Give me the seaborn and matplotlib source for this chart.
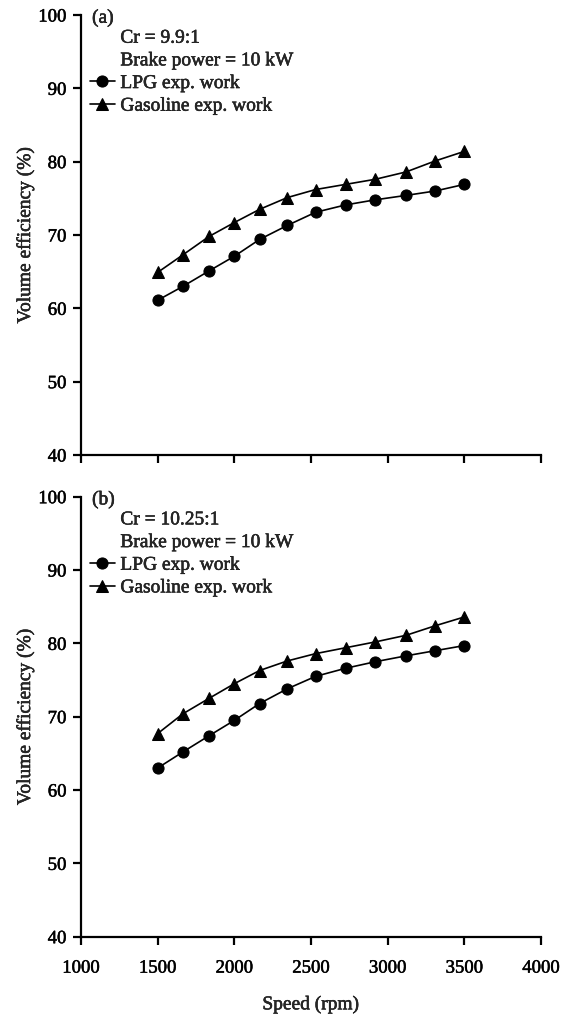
import numpy as np
import pandas as pd
import matplotlib
matplotlib.use("Agg")
import matplotlib.pyplot as plt
import matplotlib.patheffects as pe
from matplotlib.lines import Line2D
import seaborn as sns

speed = [1500, 1665, 1835, 2000, 2165, 2345, 2530, 2725, 2920, 3120, 3310, 3500]
lpg_a = [61.1, 63.0, 65.1, 67.1, 69.4, 71.3, 73.1, 74.1, 74.8, 75.4, 76.0, 76.9]
gas_a = [64.9, 67.3, 69.8, 71.7, 73.5, 75.1, 76.2, 76.9, 77.6, 78.6, 80.1, 81.4]
lpg_b = [63.0, 65.2, 67.4, 69.5, 71.8, 73.8, 75.5, 76.6, 77.5, 78.3, 79.0, 79.7]
gas_b = [67.7, 70.4, 72.5, 74.5, 76.3, 77.6, 78.6, 79.4, 80.2, 81.1, 82.4, 83.6]
series_names = ["LPG exp. work", "Gasoline exp. work"]
panel_tags = ["(a)", "(b)"]
cr_labels = ["Cr = 9.9:1", "Cr = 10.25:1"]
power_label = "Brake power = 10 kW"
xticks = [1000, 1500, 2000, 2500, 3000, 3500, 4000]
yticks = [40, 50, 60, 70, 80, 90, 100]

sns.set_style("ticks")
plt.rcParams["font.family"] = ["Liberation Serif", "DejaVu Serif"]
plt.rcParams["font.size"] = 13.5

heavy = [pe.withStroke(linewidth=0.35, foreground="black")]
FS_TICK = 13.5
FS_TEXT = 14

fig = plt.figure(figsize=(5.74, 10.15), dpi=100)
left, width = 81 / 574, 460 / 574
axA = fig.add_axes([left, 1 - 455 / 1015, width, 440 / 1015])
axB = fig.add_axes([left, 1 - 936.7 / 1015, width, 440 / 1015])

panels = [(axA, lpg_a, gas_a), (axB, lpg_b, gas_b)]
for i, (ax, lpg, gas) in enumerate(panels):
    df = pd.DataFrame({
        "speed": speed + speed,
        "eff": lpg + gas,
        "fuel": [series_names[0]] * len(speed) + [series_names[1]] * len(speed),
    })
    sns.lineplot(data=df, x="speed", y="eff", style="fuel", markers=["o", "^"],
                 dashes=False, color="black", markersize=8, linewidth=1.2,
                 markeredgecolor="black", errorbar=None, ax=ax, legend="auto")
    ax.set_xlim(1000, 4000)
    ax.set_ylim(40, 100)
    ax.set_xticks(xticks)
    ax.set_yticks(yticks)
    sns.despine(ax=ax)
    for s in ["left", "bottom"]:
        ax.spines[s].set_linewidth(1.6)
        ax.spines[s].set_color("black")
    ax.tick_params(axis="both", colors="black", width=1.6, length=5.5, labelsize=FS_TICK)
    ax.tick_params(axis="y", pad=5)
    ax.tick_params(axis="x", pad=11)
    ax.set_ylabel("Volume efficiency (%)", fontsize=FS_TEXT)
    ax.yaxis.set_label_coords(-0.102, 0.5)
    if i == 0:
        ax.set_xlabel("")
        ax.tick_params(axis="x", labelbottom=False)
    else:
        ax.set_xlabel("Speed (rpm)", fontsize=FS_TEXT, labelpad=14)

    h, l = ax.get_legend_handles_labels()
    hmap = dict(zip(l, h))
    handles = [Line2D([], [], linestyle="none"), Line2D([], [], linestyle="none")] + \
        [hmap[n] for n in series_names]
    labels = [cr_labels[i], power_label] + series_names
    leg = ax.legend(handles, labels, loc="upper left", bbox_to_anchor=(0.0196, 0.968),
                    frameon=False, borderpad=0, borderaxespad=0, handlelength=1.28,
                    handletextpad=0.28, labelspacing=0.26, fontsize=FS_TEXT)
    for t in leg.get_texts():
        t.set_path_effects(heavy)
    ax.text(0.024, 0.993, panel_tags[i], transform=ax.transAxes, ha="left", va="center",
            fontsize=FS_TEXT, path_effects=heavy)
    for t in ax.get_xticklabels() + ax.get_yticklabels():
        t.set_path_effects(heavy)
    ax.yaxis.label.set_path_effects(heavy)
    ax.xaxis.label.set_path_effects(heavy)

fig.savefig("out.png", dpi=100)
